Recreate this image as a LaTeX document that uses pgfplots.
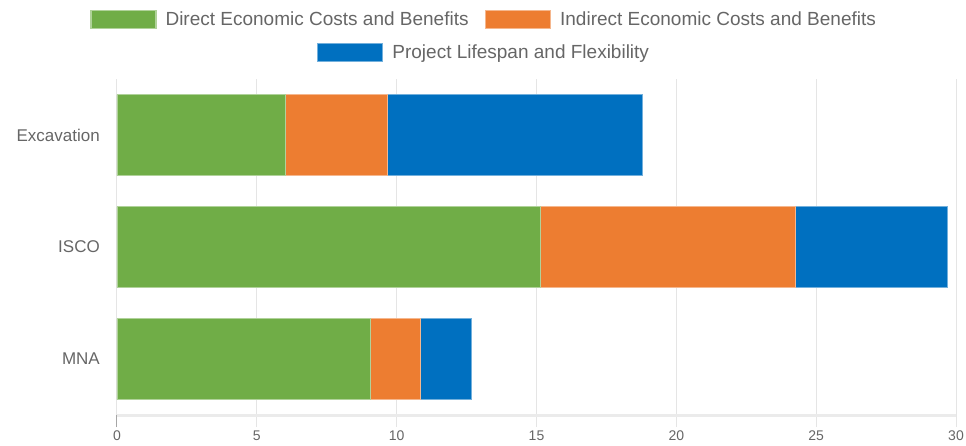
\documentclass[border=0pt]{standalone}
\usepackage{pgfplots}
\pgfplotsset{compat=1.18}
\usepackage{fontspec}
\setmainfont{Liberation Sans}
\definecolor{cgreen}{HTML}{70AD47}
\definecolor{corange}{HTML}{ED7D31}
\definecolor{cblue}{HTML}{0070C0}
\definecolor{labelc}{HTML}{666666}
\definecolor{gridc}{HTML}{E5E5E5}
\definecolor{axisc}{HTML}{EBEBEB}
\pgfplotsset{
  boxlegend/.style={legend image code/.code={\draw[##1,line width=1.5pt] (0pt,-9pt) rectangle (65pt,9pt);}},
  mylegend/.style={legend style={draw=none, fill=none, inner sep=0pt, outer sep=0pt,
      font=\fontsize{19}{21}\selectfont, text=labelc, anchor=center,
      /tikz/every odd column/.append style={column sep=9pt},
      /tikz/every even column/.append style={column sep=16pt},
      nodes={inner sep=0pt, anchor=west}},
    legend cell align=left},
}
\begin{document}
\begin{tikzpicture}[x=1pt,y=1pt]
\useasboundingbox (-117pt,-30pt) rectangle (849pt,415pt);
\begin{axis}[
  at={(0pt,0pt)}, anchor=south west, scale only axis,
  width=839pt, height=336pt,
  xbar stacked, bar width=81pt,
  xmin=0, xmax=30, ymin=-0.5, ymax=2.5,
  ytick={0,1,2}, yticklabels={MNA,ISCO,Excavation},
  xtick={0,5,...,30},
  xmajorgrids, major grid style={draw=gridc, line width=1pt},
  axis lines*=left,
  x axis line style={-, draw=axisc, line width=3pt},
  y axis line style={-, draw=gridc, line width=1pt},
  tick align=outside, major tick length=12pt,
  xtick style={draw=gridc, line width=1pt},
  ytick style={draw=none},
  /pgf/number format/assume math mode=true,
  xticklabel style={font=\fontsize{14}{16}\selectfont, text=labelc, inner sep=0pt, yshift=-4pt},
  yticklabel style={font=\fontsize{17}{19}\selectfont, text=labelc, inner sep=0pt, xshift=-5pt},
  extra x ticks={0}, extra x tick labels={},
  extra x tick style={xmajorgrids=false, xtick style={draw=black!35, line width=1pt}},
  mylegend,
  legend columns=2,
  legend style={at={(0.4362,1.1771)}},
]
\addplot[fill=cgreen, boxlegend, draw=cgreen!55!white] coordinates {(9.07,0) (15.12,1) (6.00,2)};
\addplot[fill=corange, boxlegend, draw=corange!55!white] coordinates {(1.77,0) (9.12,1) (3.65,2)};
\addplot[fill=cblue, boxlegend, draw=cblue!55!white] coordinates {(1.83,0) (5.43,1) (9.13,2)};
\legend{Direct Economic Costs and Benefits, Indirect Economic Costs and Benefits}
\end{axis}
\begin{axis}[
  at={(0pt,0pt)}, anchor=south west, scale only axis,
  width=839pt, height=336pt, hide axis,
  xmin=0, xmax=1, ymin=0, ymax=1,
  mylegend,
  legend style={at={(0.4362,1.0789)}},
]
\addlegendimage{fill=cblue, draw=cblue!55!white, boxlegend}
\addlegendentry{Project Lifespan and Flexibility}
\end{axis}
\end{tikzpicture}
\end{document}
